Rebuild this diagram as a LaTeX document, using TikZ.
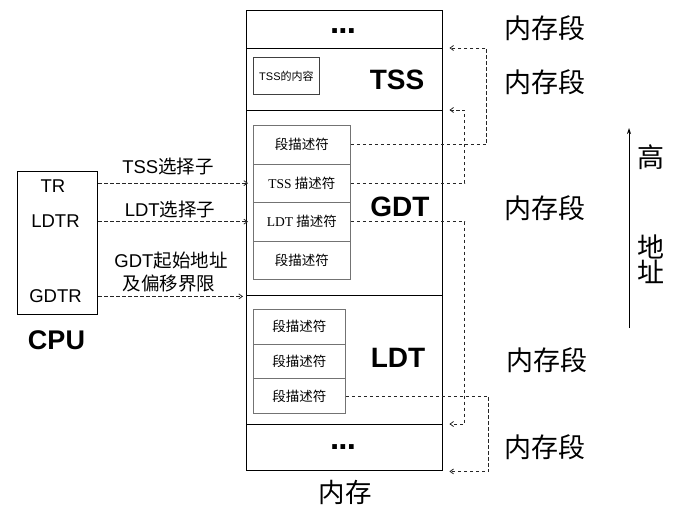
\documentclass[tikz,border=0pt]{standalone}
\usepackage{fontspec}
\setmainfont{Liberation Sans}
\newfontfamily\cjk{Noto Sans CJK SC}
\newfontfamily\serifl{Liberation Serif}
\usetikzlibrary{arrows.meta,calc}
\begin{document}
\begin{tikzpicture}[x=1pt,y=-1pt,
  seg/.style={draw=black,line width=1.4pt,inner sep=0pt,minimum width=196pt,anchor=north west},
  desc/.style={draw=black!55,line width=0.8pt,inner sep=0pt,anchor=north west,font=\fontsize{13.5}{15}\selectfont},
  conn/.style={draw=black!85,line width=0.8pt,dash pattern=on 3.5pt off 2.5pt,-{Straight Barb[length=3.5pt,width=5pt]}},
  biglbl/.style={font=\bfseries\fontsize{28}{30}\selectfont},
  seglbl/.style={font=\cjk\fontsize{27}{29}\selectfont},
  reglbl/.style={font=\fontsize{18.5}{20}\selectfont},
  dots/.style={font=\bfseries\fontsize{33}{33}\selectfont}]
\useasboundingbox (0,0) rectangle (674,509);
% memory column
\node[seg,minimum height=38pt] (s1) at (246,10) {};
\node[seg,minimum height=62pt] (tss) at (246,48) {};
\node[seg,minimum height=185pt] (gdt) at (246,110) {};
\node[seg,minimum height=129pt] (ldt) at (246,295) {};
\node[seg,minimum height=46pt] (s5) at (246,424) {};
\node[dots] (d1) at (343,31) {.\kern-0.8pt.\kern-0.8pt.};
\node[dots] (d2) at (343,447) {.\kern-0.8pt.\kern-0.8pt.};
% TSS
\node[draw=black!75,line width=0.8pt,inner sep=0pt,anchor=north west,minimum width=66pt,minimum height=37pt,font=\fontsize{11}{13}\selectfont] (tssc) at (253,57) {TSS{\cjk 的内容}};
\node[biglbl] (tsslbl) at (397,80) {TSS};
% GDT descriptors
\node[desc,minimum width=97pt,minimum height=38.5pt] (g1) at (253,125) {\cjk 段描述符};
\node[desc,minimum width=97pt,minimum height=38.5pt] (g2) at (253,163.5) {\serifl TSS \cjk 描述符};
\node[desc,minimum width=97pt,minimum height=38.5pt] (g3) at (253,202) {\serifl LDT \cjk 描述符};
\node[desc,minimum width=97pt,minimum height=38.5pt] (g4) at (253,240.5) {\cjk 段描述符};
\node[biglbl] (gdtlbl) at (400,207) {GDT};
% LDT descriptors
\node[desc,minimum width=92pt,minimum height=34.7pt] (l1) at (253,309) {\cjk 段描述符};
\node[desc,minimum width=92pt,minimum height=34.7pt] (l2) at (253,343.7) {\cjk 段描述符};
\node[desc,minimum width=92pt,minimum height=34.7pt] (l3) at (253,378.4) {\cjk 段描述符};
\node[biglbl] (ldtlbl) at (398,358) {LDT};
\node[font=\cjk\fontsize{26.5}{28}\selectfont] (mem) at (345,492) {内存};
% CPU
\node[draw=black,line width=1.2pt,inner sep=0pt,anchor=north west,minimum width=80pt,minimum height=143pt] (cpu) at (17,171) {};
\node[reglbl] (tr) at (53,186) {TR};
\node[reglbl] (ldtr) at (55.5,221) {LDTR};
\node[reglbl] (gdtr) at (55.5,296) {GDTR};
\node[font=\bfseries\fontsize{27}{29}\selectfont] (cpulbl) at (56.5,340) {CPU};
% left labels
\node[reglbl] (sel1) at (168,166) {TSS{\cjk 选择子}};
\node[reglbl] (sel2) at (170,209) {LDT{\cjk 选择子}};
\node[reglbl] (gaddr1) at (171,261) {GDT{\cjk 起始地址}};
\node[reglbl] (gaddr2) at (169,283) {\cjk 及偏移界限};
% left arrows
\draw[conn] (cpu.east |- g2.west) -- ([xshift=-5pt]g2.west);
\draw[conn] (cpu.east |- g3.west) -- ([xshift=-5pt]g3.west);
\draw[conn] (cpu.east |- gdt.south west) -- ([xshift=-3pt]gdt.south west);
% right connectors
\draw[conn] (g1.east) -- ++(136,0) |- ([xshift=6pt]tss.north east);
\draw[conn] (g2.east) -- ++(114,0) |- ([xshift=6pt]gdt.north east);
\draw[conn] (g3.east) -- ++(114,0) |- ([xshift=6pt]s5.north east);
\draw[conn] (l3.east) -- ++(143,0) |- ([xshift=6pt]s5.south east);
% right labels
\node[seglbl] (m1) at (545,28) {内存段};
\node[seglbl] (m2) at (545,82) {内存段};
\node[seglbl] (m3) at (545,208) {内存段};
\node[seglbl] (m4) at (547,360) {内存段};
\node[seglbl] (m5) at (545,447) {内存段};
% address arrow
\coordinate (alo) at (629,328);
\coordinate (ahi) at (629,128);
\draw[line width=0.9pt,-{Stealth[length=6pt,width=4pt]}] (alo) -- (ahi);
\node[font=\cjk\fontsize{27}{29}\selectfont] (gao) at (651,157) {高};
\node[font=\cjk\fontsize{27}{29}\selectfont,align=center] (dizhi) at (651,259) {地\\[-4pt]址};
\end{tikzpicture}
\end{document}
